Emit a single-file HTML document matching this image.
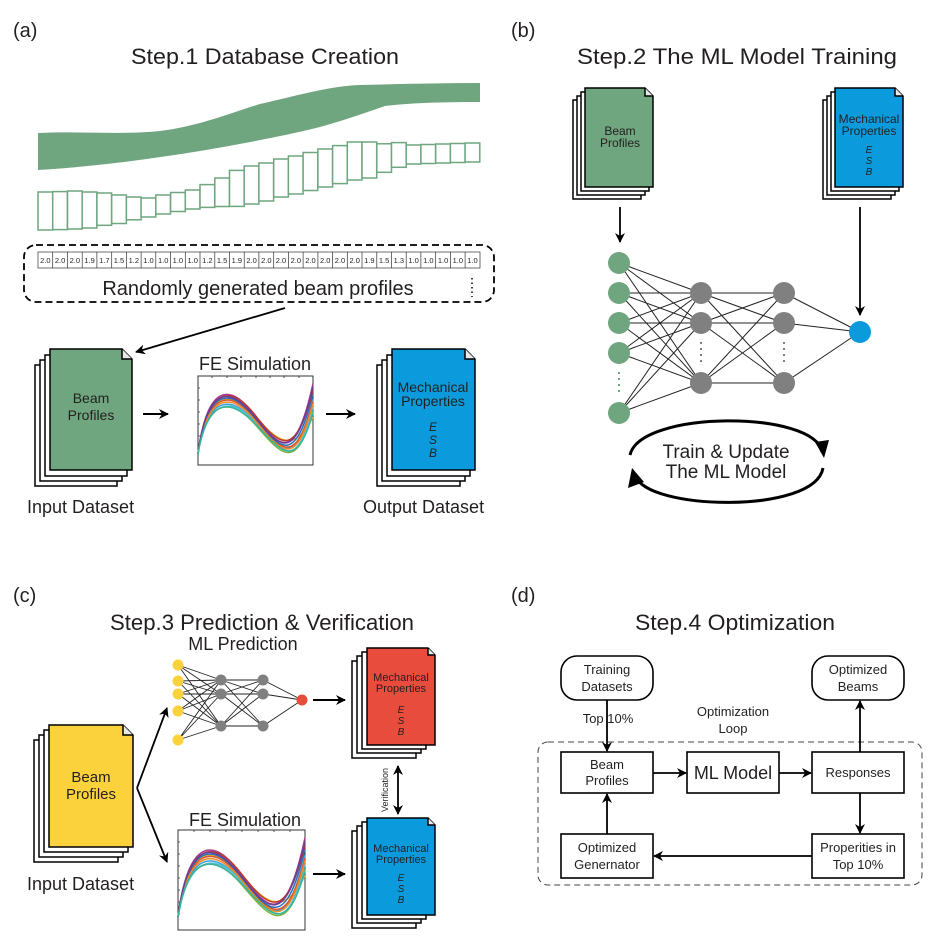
<!DOCTYPE html>
<html><head><meta charset="utf-8"><style>
html,body{margin:0;padding:0;background:#fff;}
svg{display:block;}
text{font-family:"Liberation Sans",sans-serif;fill:#231f20;}
</style></head><body>
<svg width="950" height="940" viewBox="0 0 950 940" xmlns="http://www.w3.org/2000/svg">
<defs>
<marker id="ah" markerWidth="10" markerHeight="10" refX="9" refY="5" orient="auto" markerUnits="userSpaceOnUse"><path d="M0,0 L10,5 L0,10 L3,5 Z" fill="#000"/></marker>
<marker id="ahs" markerWidth="10" markerHeight="10" refX="9" refY="5" orient="auto-start-reverse" markerUnits="userSpaceOnUse"><path d="M0,0 L10,5 L0,10 L3,5 Z" fill="#000"/></marker>
<g id="curves" fill="none" stroke-width="1.5">
<path vector-effect="non-scaling-stroke" stroke="#e8b32a" d="M0,92 C8,10 28,8 50,45 S85,88 100,45"/>
<path vector-effect="non-scaling-stroke" stroke="#3aa0dc" d="M0,92 C8,18 28,14 50,52 S85,112 100,22"/>
<path vector-effect="non-scaling-stroke" stroke="#a83a8c" d="M0,92 C8,2 28,0 50,44 S85,102 100,2"/>
<path vector-effect="non-scaling-stroke" stroke="#d9532b" d="M0,92 C8,12 28,8 50,48 S85,110 100,25"/>
<path vector-effect="non-scaling-stroke" stroke="#7fb23a" d="M0,92 C8,22 28,18 50,55 S85,118 100,38"/>
<path vector-effect="non-scaling-stroke" stroke="#2c6fb5" d="M0,92 C8,8 28,5 50,47 S85,106 100,15"/>
<path vector-effect="non-scaling-stroke" stroke="#c0392b" d="M0,92 C8,6 28,2 50,43 S85,98 100,10"/>
<path vector-effect="non-scaling-stroke" stroke="#4cc3d9" d="M0,92 C8,24 28,16 50,52 S85,120 100,32"/>
<path vector-effect="non-scaling-stroke" stroke="#f08a24" d="M0,92 C8,15 28,11 50,50 S85,114 100,28"/>
<path vector-effect="non-scaling-stroke" stroke="#6a3d9a" d="M0,92 C8,4 28,4 50,46 S85,102 100,6"/>
<path vector-effect="non-scaling-stroke" stroke="#38b49a" d="M0,92 C8,20 28,20 50,54 S85,116 100,40"/>
</g>
</defs>

<!-- ============ (a) ============ -->
<text x="13" y="37" font-size="20">(a)</text>
<text x="265" y="64" font-size="22" text-anchor="middle" textLength="268" lengthAdjust="spacingAndGlyphs">Step.1 Database Creation</text>
<path d="M38,133 C80,131 120,135 160,131 C200,126 230,113 260,104 C300,95 330,86 360,85 C400,84 440,83 480,83 L480,102 C440,102 410,103 385,106 C365,113 345,120 320,127 C280,137 240,144 200,151 C150,159 100,166 38,170 Z" fill="#6fa67f"/>
<g fill="#fff" stroke="#6fa67f" stroke-width="1.5">
<rect x="38" y="192" width="14.7" height="38"/><rect x="52.7" y="191.6" width="14.7" height="38"/><rect x="67.5" y="191" width="14.7" height="38"/><rect x="82.2" y="192" width="14.7" height="36"/><rect x="96.9" y="193" width="14.7" height="32.3"/><rect x="111.7" y="195" width="14.7" height="28.5"/><rect x="126.4" y="197" width="14.7" height="22.8"/><rect x="141.1" y="198" width="14.7" height="19"/><rect x="155.8" y="195" width="14.7" height="19"/><rect x="170.6" y="192.5" width="14.7" height="19"/><rect x="185.3" y="190" width="14.7" height="19"/><rect x="200" y="184.6" width="14.7" height="22.8"/><rect x="214.8" y="178" width="14.7" height="28.5"/><rect x="229.5" y="170.4" width="14.7" height="36"/><rect x="244.2" y="166" width="14.7" height="38"/><rect x="258.9" y="163" width="14.7" height="38"/><rect x="273.7" y="159" width="14.7" height="38"/><rect x="288.4" y="156" width="14.7" height="38"/><rect x="303.1" y="152.5" width="14.7" height="38"/><rect x="317.9" y="149" width="14.7" height="38"/><rect x="332.6" y="145.6" width="14.7" height="38"/><rect x="347.3" y="142" width="14.7" height="38"/><rect x="362" y="142" width="14.7" height="36"/><rect x="376.8" y="143.8" width="14.7" height="28.5"/><rect x="391.5" y="142.6" width="14.7" height="24.7"/><rect x="406.2" y="145" width="14.7" height="19"/><rect x="420.9" y="144.5" width="14.7" height="19"/><rect x="435.7" y="144" width="14.7" height="19"/><rect x="450.4" y="143.5" width="14.7" height="19"/><rect x="465.1" y="143" width="14.7" height="19"/>
</g>
<rect x="24" y="245" width="470" height="57" rx="12" fill="none" stroke="#000" stroke-width="1.8" stroke-dasharray="7,4"/>
<rect x="38" y="252" width="442" height="16" fill="#fff" stroke="#333" stroke-width="0.7"/>
<g stroke="#333" stroke-width="0.7">
<path d="M52.7,252v16M67.5,252v16M82.2,252v16M96.9,252v16M111.7,252v16M126.4,252v16M141.1,252v16M155.8,252v16M170.6,252v16M185.3,252v16M200,252v16M214.8,252v16M229.5,252v16M244.2,252v16M258.9,252v16M273.7,252v16M288.4,252v16M303.1,252v16M317.9,252v16M332.6,252v16M347.3,252v16M362,252v16M376.8,252v16M391.5,252v16M406.2,252v16M420.9,252v16M435.7,252v16M450.4,252v16M465.1,252v16"/>
</g>
<g font-size="7.5" text-anchor="middle">
<text x="45.4" y="263">2.0</text><text x="60.1" y="263">2.0</text><text x="74.8" y="263">2.0</text><text x="89.6" y="263">1.9</text><text x="104.3" y="263">1.7</text><text x="119" y="263">1.5</text><text x="133.8" y="263">1.2</text><text x="148.5" y="263">1.0</text><text x="163.2" y="263">1.0</text><text x="177.9" y="263">1.0</text><text x="192.7" y="263">1.0</text><text x="207.4" y="263">1.2</text><text x="222.1" y="263">1.5</text><text x="236.9" y="263">1.9</text><text x="251.6" y="263">2.0</text><text x="266.3" y="263">2.0</text><text x="281" y="263">2.0</text><text x="295.8" y="263">2.0</text><text x="310.5" y="263">2.0</text><text x="325.2" y="263">2.0</text><text x="340" y="263">2.0</text><text x="354.7" y="263">2.0</text><text x="369.4" y="263">1.9</text><text x="384.1" y="263">1.5</text><text x="398.9" y="263">1.3</text><text x="413.6" y="263">1.0</text><text x="428.3" y="263">1.0</text><text x="443.1" y="263">1.0</text><text x="457.8" y="263">1.0</text><text x="472.5" y="263">1.0</text>
</g>
<text x="258" y="295" font-size="20" text-anchor="middle">Randomly generated beam profiles</text>
<path d="M472,278 V297" stroke="#000" stroke-width="1.5" stroke-dasharray="1.5,3"/>
<path d="M285,308 L136,352" stroke="#000" stroke-width="1.8" marker-end="url(#ah)"/>

<g stroke="#000" stroke-width="1.5">
<rect x="35" y="365" width="82" height="121" fill="#fff"/>
<rect x="40" y="360" width="82" height="121" fill="#fff"/>
<rect x="45" y="355" width="82" height="121" fill="#fff"/>
<path d="M50,349 H122 L132,359 V470 H50 Z" fill="#6fa67f"/>
<path d="M122,349 V359 H132" fill="#e8e8e8"/>
</g>
<text x="91" y="403" font-size="14" text-anchor="middle">Beam</text>
<text x="91" y="420" font-size="14" text-anchor="middle">Profiles</text>
<text x="27" y="513" font-size="18">Input Dataset</text>
<path d="M143,414 H168" stroke="#000" stroke-width="2" marker-end="url(#ah)"/>
<text x="255" y="370" font-size="18" text-anchor="middle">FE Simulation</text>
<rect x="198" y="376" width="115" height="89" fill="#fff" stroke="#333" stroke-width="1"/>
<path d="M212,376v2M227,376v2M241,376v2M256,376v2M270,376v2M284,376v2M299,376v2M198,388h2M198,400h2M198,412h2M198,424h2M198,436h2M198,448h2" stroke="#333" stroke-width="0.8"/>
<use href="#curves" transform="translate(198,382) scale(1.15,0.78)"/>
<path d="M326,414 H355" stroke="#000" stroke-width="2" marker-end="url(#ah)"/>
<g stroke="#000" stroke-width="1.5">
<rect x="377" y="365" width="83" height="121" fill="#fff"/>
<rect x="382" y="360" width="83" height="121" fill="#fff"/>
<rect x="387" y="355" width="83" height="121" fill="#fff"/>
<path d="M392,349 H465 L475,359 V470 H392 Z" fill="#0b9bdc"/>
<path d="M465,349 V359 H475" fill="#e8e8e8"/>
</g>
<text x="433" y="392" font-size="14" text-anchor="middle">Mechanical</text>
<text x="433" y="406" font-size="14" text-anchor="middle">Properties</text>
<text x="433" y="431" font-size="12" font-style="italic" text-anchor="middle">E</text>
<text x="433" y="444" font-size="12" font-style="italic" text-anchor="middle">S</text>
<text x="433" y="457" font-size="12" font-style="italic" text-anchor="middle">B</text>
<text x="363" y="513" font-size="18">Output Dataset</text>

<!-- ============ (b) ============ -->
<text x="511" y="37" font-size="20">(b)</text>
<text x="737" y="64" font-size="22" text-anchor="middle" textLength="320" lengthAdjust="spacingAndGlyphs">Step.2 The ML Model  Training</text>
<g stroke="#000" stroke-width="1.5">
<rect x="573" y="100" width="68" height="99" fill="#fff"/>
<rect x="577" y="96" width="68" height="99" fill="#fff"/>
<rect x="581" y="92" width="68" height="99" fill="#fff"/>
<path d="M585,88 H645 L653,96 V187 H585 Z" fill="#6fa67f"/>
<path d="M645,88 V96 H653" fill="#e8e8e8"/>
</g>
<text x="620" y="135" font-size="12" text-anchor="middle">Beam</text>
<text x="620" y="147" font-size="12" text-anchor="middle">Profiles</text>
<g stroke="#000" stroke-width="1.5">
<rect x="823" y="100" width="68" height="99" fill="#fff"/>
<rect x="827" y="96" width="68" height="99" fill="#fff"/>
<rect x="831" y="92" width="68" height="99" fill="#fff"/>
<path d="M835,88 H895 L903,96 V187 H835 Z" fill="#0b9bdc"/>
<path d="M895,88 V96 H903" fill="#e8e8e8"/>
</g>
<text x="869" y="123" font-size="12" text-anchor="middle">Mechanical</text>
<text x="869" y="135" font-size="12" text-anchor="middle">Properties</text>
<text x="869" y="153" font-size="10" font-style="italic" text-anchor="middle">E</text>
<text x="869" y="164" font-size="10" font-style="italic" text-anchor="middle">S</text>
<text x="869" y="175" font-size="10" font-style="italic" text-anchor="middle">B</text>
<path d="M620,207 V242" stroke="#000" stroke-width="1.8" marker-end="url(#ah)"/>
<path d="M860,207 V315" stroke="#000" stroke-width="1.8" marker-end="url(#ah)"/>
<g stroke="#222" stroke-width="1">
<path d="M619,263L701,293M619,263L701,323M619,263L701,383M619,293L701,293M619,293L701,323M619,293L701,383M619,323L701,293M619,323L701,323M619,323L701,383M619,353L701,293M619,353L701,323M619,353L701,383M619,413L701,293M619,413L701,323M619,413L701,383"/>
<path d="M701,293L784,293M701,293L784,323M701,293L784,383M701,323L784,293M701,323L784,323M701,323L784,383M701,383L784,293M701,383L784,323M701,383L784,383"/>
<path d="M784,293L860,332M784,323L860,332M784,383L860,332"/>
</g>
<g fill="#6fa67f"><circle cx="619" cy="263" r="11"/><circle cx="619" cy="293" r="11"/><circle cx="619" cy="323" r="11"/><circle cx="619" cy="353" r="11"/><circle cx="619" cy="413" r="11"/></g>
<path d="M619,372 V396" stroke="#6fa67f" stroke-width="2" stroke-dasharray="2,4"/>
<g fill="#808080"><circle cx="701" cy="293" r="11"/><circle cx="701" cy="323" r="11"/><circle cx="701" cy="383" r="11"/><circle cx="784" cy="293" r="11"/><circle cx="784" cy="323" r="11"/><circle cx="784" cy="383" r="11"/></g>
<path d="M701,342 V366 M784,342 V366" stroke="#808080" stroke-width="2" stroke-dasharray="2,4"/>
<circle cx="860" cy="332" r="11" fill="#0b9bdc"/>
<path d="M630,455 C640,410 815,410 822,452" fill="none" stroke="#000" stroke-width="3"/>
<path d="M815,442 L824,458 L829,440 Z" fill="#000"/>
<path d="M823,468 C815,515 645,510 636,476" fill="none" stroke="#000" stroke-width="3"/>
<path d="M628,488 L632,468 L644,482 Z" fill="#000"/>
<text x="726" y="458" font-size="19" text-anchor="middle">Train &amp; Update</text>
<text x="726" y="478" font-size="19" text-anchor="middle">The ML Model</text>

<!-- ============ (c) ============ -->
<text x="13" y="602" font-size="20">(c)</text>
<text x="262" y="630" font-size="22" text-anchor="middle" textLength="304" lengthAdjust="spacingAndGlyphs">Step.3 Prediction &amp; Verification</text>
<g stroke="#000" stroke-width="1.5">
<rect x="34" y="740" width="84" height="122" fill="#fff"/>
<rect x="39" y="735" width="84" height="122" fill="#fff"/>
<rect x="44" y="730" width="84" height="122" fill="#fff"/>
<path d="M49,725 H123 L133,735 V847 H49 Z" fill="#fcd23c"/>
<path d="M123,725 V735 H133" fill="#e8e8e8"/>
</g>
<text x="91" y="782" font-size="15" text-anchor="middle">Beam</text>
<text x="91" y="799" font-size="15" text-anchor="middle">Profiles</text>
<text x="27" y="890" font-size="18">Input Dataset</text>
<path d="M137,788 L167,708" stroke="#000" stroke-width="1.8" marker-end="url(#ah)"/>
<path d="M137,788 L167,862" stroke="#000" stroke-width="1.8" marker-end="url(#ah)"/>
<text x="243" y="650" font-size="18" text-anchor="middle">ML Prediction</text>
<g stroke="#222" stroke-width="0.9">
<path d="M178,665L221,680M178,665L221,694M178,665L221,726M178,681L221,680M178,681L221,694M178,681L221,726M178,694L221,680M178,694L221,694M178,694L221,726M178,711L221,680M178,711L221,694M178,711L221,726M178,740L221,680M178,740L221,694M178,740L221,726"/>
<path d="M221,680L263,680M221,680L263,694M221,680L263,726M221,694L263,680M221,694L263,694M221,694L263,726M221,726L263,680M221,726L263,694M221,726L263,726"/>
<path d="M263,680L302,700M263,694L302,700M263,726L302,700"/>
</g>
<g fill="#fcd23c"><circle cx="178" cy="665" r="5.5"/><circle cx="178" cy="681" r="5.5"/><circle cx="178" cy="694" r="5.5"/><circle cx="178" cy="711" r="5.5"/><circle cx="178" cy="740" r="5.5"/></g>
<g fill="#808080"><circle cx="221" cy="680" r="5.5"/><circle cx="221" cy="694" r="5.5"/><circle cx="221" cy="726" r="5.5"/><circle cx="263" cy="680" r="5.5"/><circle cx="263" cy="694" r="5.5"/><circle cx="263" cy="726" r="5.5"/></g>
<circle cx="302" cy="700" r="5.5" fill="#e84c3d"/>
<path d="M313,700 H345" stroke="#000" stroke-width="2" marker-end="url(#ah)"/>
<g stroke="#000" stroke-width="1.5">
<rect x="352" y="661" width="64" height="97" fill="#fff"/>
<rect x="357" y="656" width="64" height="97" fill="#fff"/>
<rect x="362" y="652" width="64" height="97" fill="#fff"/>
<path d="M367,648 H428 L435,655 V745 H367 Z" fill="#e84c3d"/>
<path d="M428,648 V655 H435" fill="#e8e8e8"/>
</g>
<text x="401" y="681" font-size="11" text-anchor="middle">Mechanical</text>
<text x="401" y="692" font-size="11" text-anchor="middle">Properties</text>
<text x="401" y="713" font-size="10" font-style="italic" text-anchor="middle">E</text>
<text x="401" y="724" font-size="10" font-style="italic" text-anchor="middle">S</text>
<text x="401" y="735" font-size="10" font-style="italic" text-anchor="middle">B</text>
<path d="M398,766 V814" stroke="#000" stroke-width="1.8" marker-start="url(#ahs)" marker-end="url(#ah)"/>
<text x="388" y="790" font-size="9" text-anchor="middle" transform="rotate(-90 388 790)">Verification</text>
<text x="245" y="826" font-size="18" text-anchor="middle">FE Simulation</text>
<rect x="178" y="830" width="127" height="100" fill="#fff" stroke="#333" stroke-width="1"/>
<path d="M194,830v2M210,830v2M226,830v2M242,830v2M258,830v2M274,830v2M290,830v2M178,842h2M178,854h2M178,866h2M178,878h2M178,890h2M178,902h2M178,914h2" stroke="#333" stroke-width="0.8"/>
<use href="#curves" transform="translate(178,836) scale(1.27,0.88)"/>
<path d="M313,874 H345" stroke="#000" stroke-width="2" marker-end="url(#ah)"/>
<g stroke="#000" stroke-width="1.5">
<rect x="352" y="831" width="64" height="97" fill="#fff"/>
<rect x="357" y="826" width="64" height="97" fill="#fff"/>
<rect x="362" y="822" width="64" height="97" fill="#fff"/>
<path d="M367,818 H428 L435,825 V915 H367 Z" fill="#0b9bdc"/>
<path d="M428,818 V825 H435" fill="#e8e8e8"/>
</g>
<text x="401" y="852" font-size="11" text-anchor="middle">Mechanical</text>
<text x="401" y="863" font-size="11" text-anchor="middle">Properties</text>
<text x="401" y="881" font-size="10" font-style="italic" text-anchor="middle">E</text>
<text x="401" y="892" font-size="10" font-style="italic" text-anchor="middle">S</text>
<text x="401" y="903" font-size="10" font-style="italic" text-anchor="middle">B</text>

<!-- ============ (d) ============ -->
<text x="511" y="602" font-size="20">(d)</text>
<text x="735" y="630" font-size="22" text-anchor="middle" textLength="200" lengthAdjust="spacingAndGlyphs">Step.4 Optimization</text>
<rect x="538" y="742" width="384" height="143" rx="10" fill="none" stroke="#444" stroke-width="1" stroke-dasharray="6,4"/>
<g fill="#fff" stroke="#000" stroke-width="1.6">
<rect x="561" y="656" width="92" height="44" rx="16"/>
<rect x="812" y="656" width="92" height="44" rx="16"/>
<rect x="561" y="752" width="92" height="41"/>
<rect x="687" y="752" width="92" height="41"/>
<rect x="812" y="752" width="92" height="41"/>
<rect x="561" y="834" width="92" height="44"/>
<rect x="812" y="834" width="92" height="44"/>
</g>
<g font-size="13" text-anchor="middle">
<text x="607" y="674">Training</text><text x="607" y="691">Datasets</text>
<text x="858" y="674">Optimized</text><text x="858" y="691">Beams</text>
<text x="607" y="769">Beam</text><text x="607" y="785">Profiles</text>
<text x="733" y="779" font-size="18">ML Model</text>
<text x="858" y="777">Responses</text>
<text x="607" y="852">Optimized</text><text x="607" y="869">Genernator</text>
<text x="858" y="852">Properities in</text><text x="858" y="869">Top 10%</text>
<text x="608" y="723">Top 10%</text>
<text x="733" y="716">Optimization</text><text x="733" y="733">Loop</text>
</g>
<g stroke="#000" stroke-width="1.8">
<path d="M607,700 V751" marker-end="url(#ah)"/>
<path d="M653,773 H686" marker-end="url(#ah)"/>
<path d="M779,773 H811" marker-end="url(#ah)"/>
<path d="M860,752 V701" marker-end="url(#ah)"/>
<path d="M860,793 V833" marker-end="url(#ah)"/>
<path d="M812,856 H654" marker-end="url(#ah)"/>
<path d="M607,834 V794" marker-end="url(#ah)"/>
</g>
</svg>
</body></html>
